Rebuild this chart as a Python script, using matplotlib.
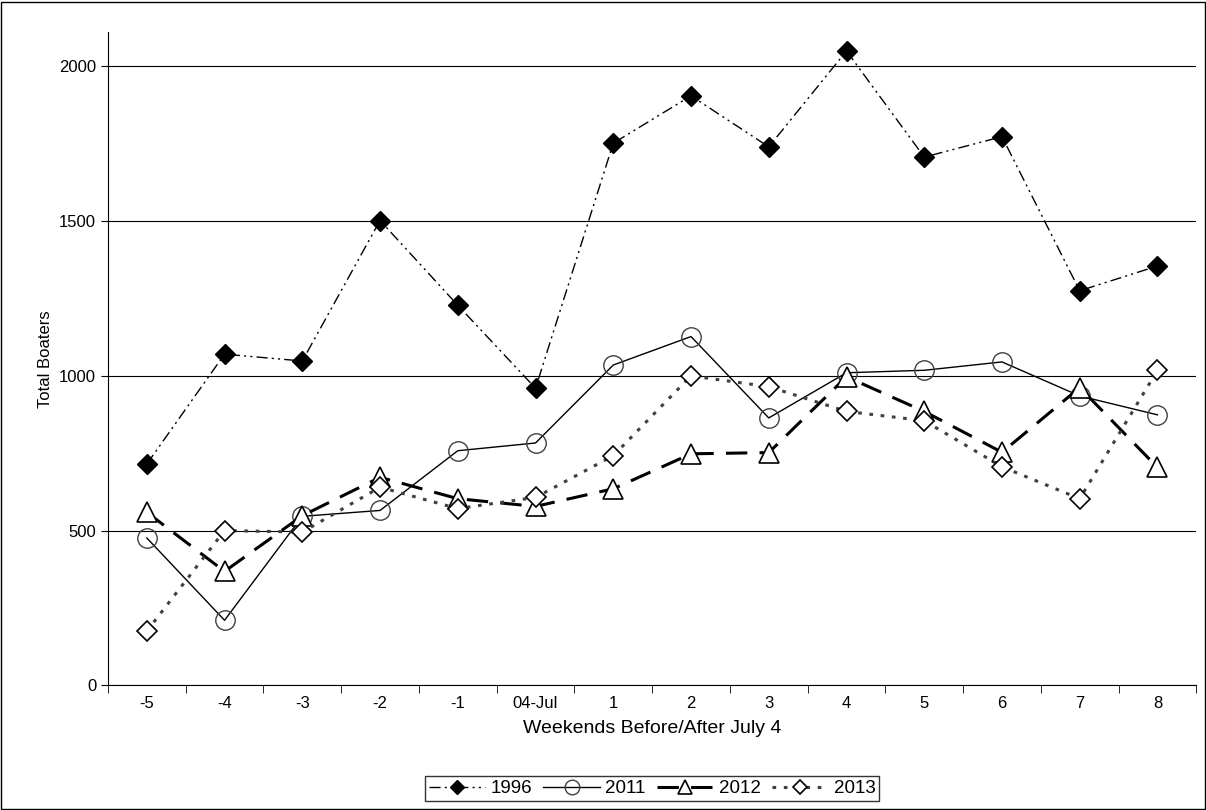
import matplotlib.pyplot as plt
from matplotlib.patches import Rectangle

plt.rcParams['font.family'] = ['Liberation Sans', 'DejaVu Sans']

weekends = ["-5", "-4", "-3", "-2", "-1", "04-Jul", "1", "2", "3", "4", "5", "6", "7", "8"]
boaters_1996 = [715, 1070, 1048, 1502, 1228, 960, 1752, 1905, 1740, 2050, 1707, 1773, 1275, 1355]
boaters_2011 = [476, 210, 546, 565, 758, 783, 1035, 1127, 864, 1010, 1018, 1045, 935, 874]
boaters_2012 = [559, 368, 548, 672, 603, 578, 635, 748, 752, 997, 885, 753, 962, 704]
boaters_2013 = [175, 500, 495, 640, 571, 607, 742, 1000, 965, 885, 855, 706, 603, 1018]

fig = plt.figure(figsize=(12.06, 8.1), dpi=100)
fig.patches.append(Rectangle((0.001, 0.001), 0.998, 0.997, transform=fig.transFigure,
                             fill=False, edgecolor="black", linewidth=1))
ax = fig.add_axes([0.0895, 0.154, 0.9025, 0.806])

x = list(range(len(weekends)))
ax.plot(x, boaters_1996, color="black", linestyle=(0, (8, 3, 1.5, 3, 1.5, 3)), linewidth=1,
        marker="D", markersize=10, markerfacecolor="black", label="1996")
ax.plot(x, boaters_2011, color="black", linestyle="-", linewidth=1,
        marker="o", markersize=14, markerfacecolor="none", markeredgecolor="#404040", label="2011")
ax.plot(x, boaters_2012, color="black", linestyle=(0, (7, 4)), linewidth=2.2,
        marker="^", markersize=14, markerfacecolor="white", markeredgewidth=1.2, label="2012")
ax.plot(x, boaters_2013, color="#404040", linestyle=(0, (1.2, 2.5)), linewidth=2.2,
        marker="D", markersize=10, markerfacecolor="white", markeredgecolor="black",
        markeredgewidth=1.2, label="2013")

ax.set_xlim(-0.5, len(weekends) - 0.5)
ax.set_ylim(0, 2110)
ax.set_yticks([0, 500, 1000, 1500, 2000])
ax.set_xticks(x)
ax.set_xticklabels(weekends)
ax.set_xticks([i - 0.5 for i in range(len(weekends) + 1)], minor=True)
ax.tick_params(axis="x", which="major", length=0, labelsize=12, pad=8)
ax.tick_params(axis="x", which="minor", length=6, direction="out")
ax.tick_params(axis="y", labelsize=12, length=5)
ax.grid(axis="y", color="black", linewidth=0.8)
ax.set_axisbelow(True)
for side in ["top", "right"]:
    ax.spines[side].set_visible(False)
ax.set_ylabel("Total Boaters", fontsize=12)
ax.set_xlabel("Weekends Before/After July 4", fontsize=14, labelpad=6)

leg = ax.legend(loc="upper center", bbox_to_anchor=(0.5, -0.125), ncol=4, fontsize=13.5,
                frameon=True, fancybox=False, edgecolor="black", handlelength=3,
                handletextpad=0.3, columnspacing=0.6, borderpad=0.2, markerscale=0.75)
leg.get_frame().set_linewidth(1)

fig.savefig("out.png", dpi=100)
